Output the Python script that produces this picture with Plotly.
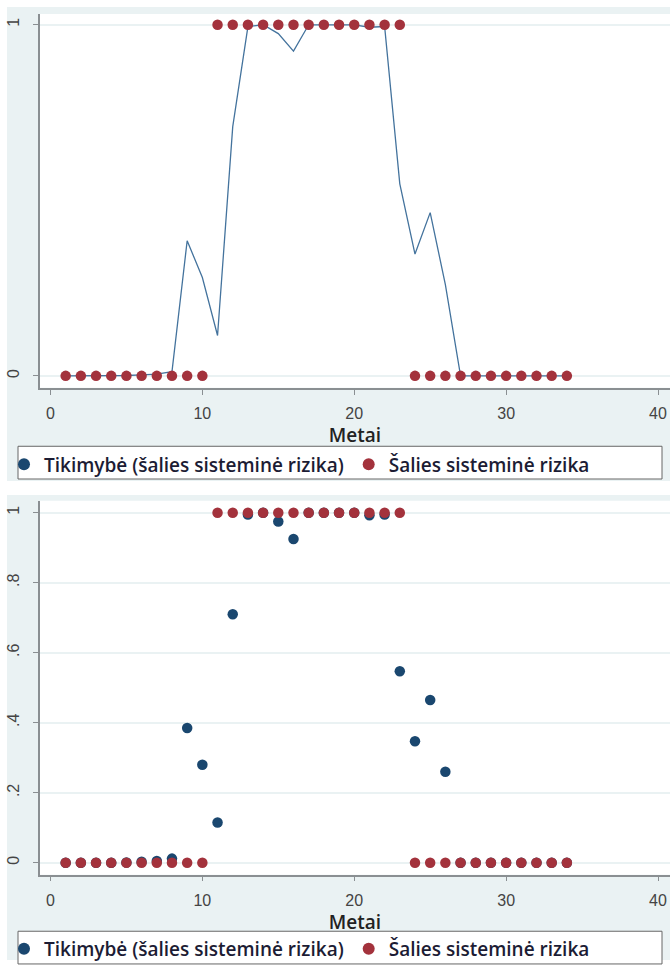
import plotly.graph_objects as go

# ---------------- data ----------------
years = [1, 2, 3, 4, 5, 6, 7, 8, 9, 10, 11, 12, 13, 14, 15, 16, 17,
         18, 19, 20, 21, 22, 23, 24, 25, 26, 27, 28, 29, 30, 31, 32, 33, 34]
risk = [0, 0, 0, 0, 0, 0, 0, 0, 0, 0, 1, 1, 1, 1, 1, 1, 1,
        1, 1, 1, 1, 1, 1, 0, 0, 0, 0, 0, 0, 0, 0, 0, 0, 0]
prob = [0.0, 0.0, 0.0, 0.0, 0.001, 0.003, 0.005, 0.012, 0.385, 0.28, 0.115, 0.71,
        0.995, 1.0, 0.975, 0.925, 1.0, 1.0, 1.0, 1.0, 0.993, 0.995, 0.547, 0.347,
        0.465, 0.26, 0.0, 0.0, 0.0, 0.0, 0.0, 0.0, 0.0, 0.0]
xticks = [0, 10, 20, 30, 40]
yticks_top = [0, 1]
ytext_top = ["0", "1"]
yticks_bot = [0, 0.2, 0.4, 0.6, 0.8, 1]
ytext_bot = ["0", ".2", ".4", ".6", ".8", "1"]
name_prob = "Tikimybė (šalies sisteminė rizika)"
name_risk = "Šalies sisteminė rizika"
x_title = "Metai"

# ---------------- style ----------------
W, H = 670, 968
NAVY = "#1a476f"
LINE = "#44739d"
MAROON = "#a3323c"
BG = "#eaf2f3"
AXIS = "#8a8f92"
TXT = "#444444"
FONT = "Open Sans"


def px(x):
    return x / W


def py(y):
    return 1 - y / H


fig = go.Figure()

# top panel: line + red dots
fig.add_trace(go.Scatter(x=years, y=prob, mode="lines", name=name_prob,
                         line=dict(color=LINE, width=1.3), showlegend=False,
                         xaxis="x", yaxis="y"))
fig.add_trace(go.Scatter(x=[None], y=[None], mode="markers", name=name_prob,
                         marker=dict(color=NAVY, size=7), legend="legend",
                         xaxis="x", yaxis="y"))
fig.add_trace(go.Scatter(x=years, y=risk, mode="markers", name=name_risk,
                         marker=dict(color=MAROON, size=10.5), legend="legend",
                         xaxis="x", yaxis="y"))

# bottom panel: blue dots + red dots
fig.add_trace(go.Scatter(x=years, y=prob, mode="markers", name=name_prob,
                         marker=dict(color=NAVY, size=10.5), legend="legend2",
                         xaxis="x2", yaxis="y2"))
fig.add_trace(go.Scatter(x=years, y=risk, mode="markers", name=name_risk,
                         marker=dict(color=MAROON, size=10.5), legend="legend2",
                         xaxis="x2", yaxis="y2"))

xr = [-0.69, 40.79]
common_x = dict(range=xr, tickvals=xticks, ticks="outside", ticklen=5,
                tickcolor=AXIS, tickwidth=1, showline=True, linecolor=AXIS,
                linewidth=1.5, showgrid=False, zeroline=False,
                ticklabelstandoff=5,
                tickfont=dict(family="Liberation Sans", size=16, color=TXT),
                title=dict(text=x_title, standoff=0,
                           font=dict(family=FONT, size=19, color="#222",
                                     weight=600)))
common_y = dict(ticks="outside", ticklen=5, tickcolor=AXIS, tickwidth=1,
                showline=True, linecolor=AXIS, linewidth=1.5, showgrid=True,
                gridcolor=BG, gridwidth=1.5, zeroline=False, tickangle=-90,
                ticklabelstandoff=8,
                tickfont=dict(family="Liberation Sans", size=16, color=TXT))

legend_common = dict(orientation="h", xanchor="left", yanchor="top",
                     bgcolor="rgba(0,0,0,0)",
                     font=dict(family=FONT, size=19, color="#1c1c34",
                               weight=600),
                     itemsizing="constant", tracegroupgap=0, itemwidth=30)

fig.update_layout(
    width=W, height=H, margin=dict(l=0, r=0, t=0, b=0),
    paper_bgcolor="white", plot_bgcolor="rgba(0,0,0,0)",
    showlegend=True,
    xaxis=dict(domain=[px(40), 1], anchor="y", **common_x),
    yaxis=dict(domain=[py(391), py(14)], anchor="x",
               range=[-12 / 354, 1 + 11 / 354],
               tickvals=yticks_top, ticktext=ytext_top, **common_y),
    xaxis2=dict(domain=[px(40), 1], anchor="y2", **common_x),
    yaxis2=dict(domain=[py(882), py(505)], anchor="x2",
                range=[-12 / 353, 1 + 12 / 353],
                tickvals=yticks_bot, ticktext=ytext_bot, **common_y),
    legend=dict(x=px(4), y=py(449), **legend_common),
    legend2=dict(x=px(4), y=py(938), **legend_common),
    shapes=[
        # panel backgrounds
        dict(type="rect", xref="paper", yref="paper", layer="below",
             x0=px(7), x1=1, y0=py(485), y1=py(7), fillcolor=BG, line_width=0),
        dict(type="rect", xref="paper", yref="paper", layer="below",
             x0=px(7), x1=1, y0=0, y1=py(499), fillcolor=BG, line_width=0),
        # plot areas
        dict(type="rect", xref="paper", yref="paper", layer="below",
             x0=px(40), x1=1, y0=py(391), y1=py(14), fillcolor="white",
             line_width=0),
        dict(type="rect", xref="paper", yref="paper", layer="below",
             x0=px(40), x1=1, y0=py(882), y1=py(505), fillcolor="white",
             line_width=0),
        # legend boxes
        dict(type="rect", xref="paper", yref="paper", layer="below",
             x0=px(18), x1=px(662), y0=py(483), y1=py(450), fillcolor="white",
             line=dict(color="#666", width=1)),
        dict(type="rect", xref="paper", yref="paper", layer="below",
             x0=px(18), x1=px(662), y0=py(972), y1=py(939), fillcolor="white",
             line=dict(color="#666", width=1)),
    ],
)

fig.write_html(
    "out.html",
    config={"displayModeBar": False},
    post_script="document.body.style.margin='0';"
                "document.body.style.overflow='hidden';",
)
